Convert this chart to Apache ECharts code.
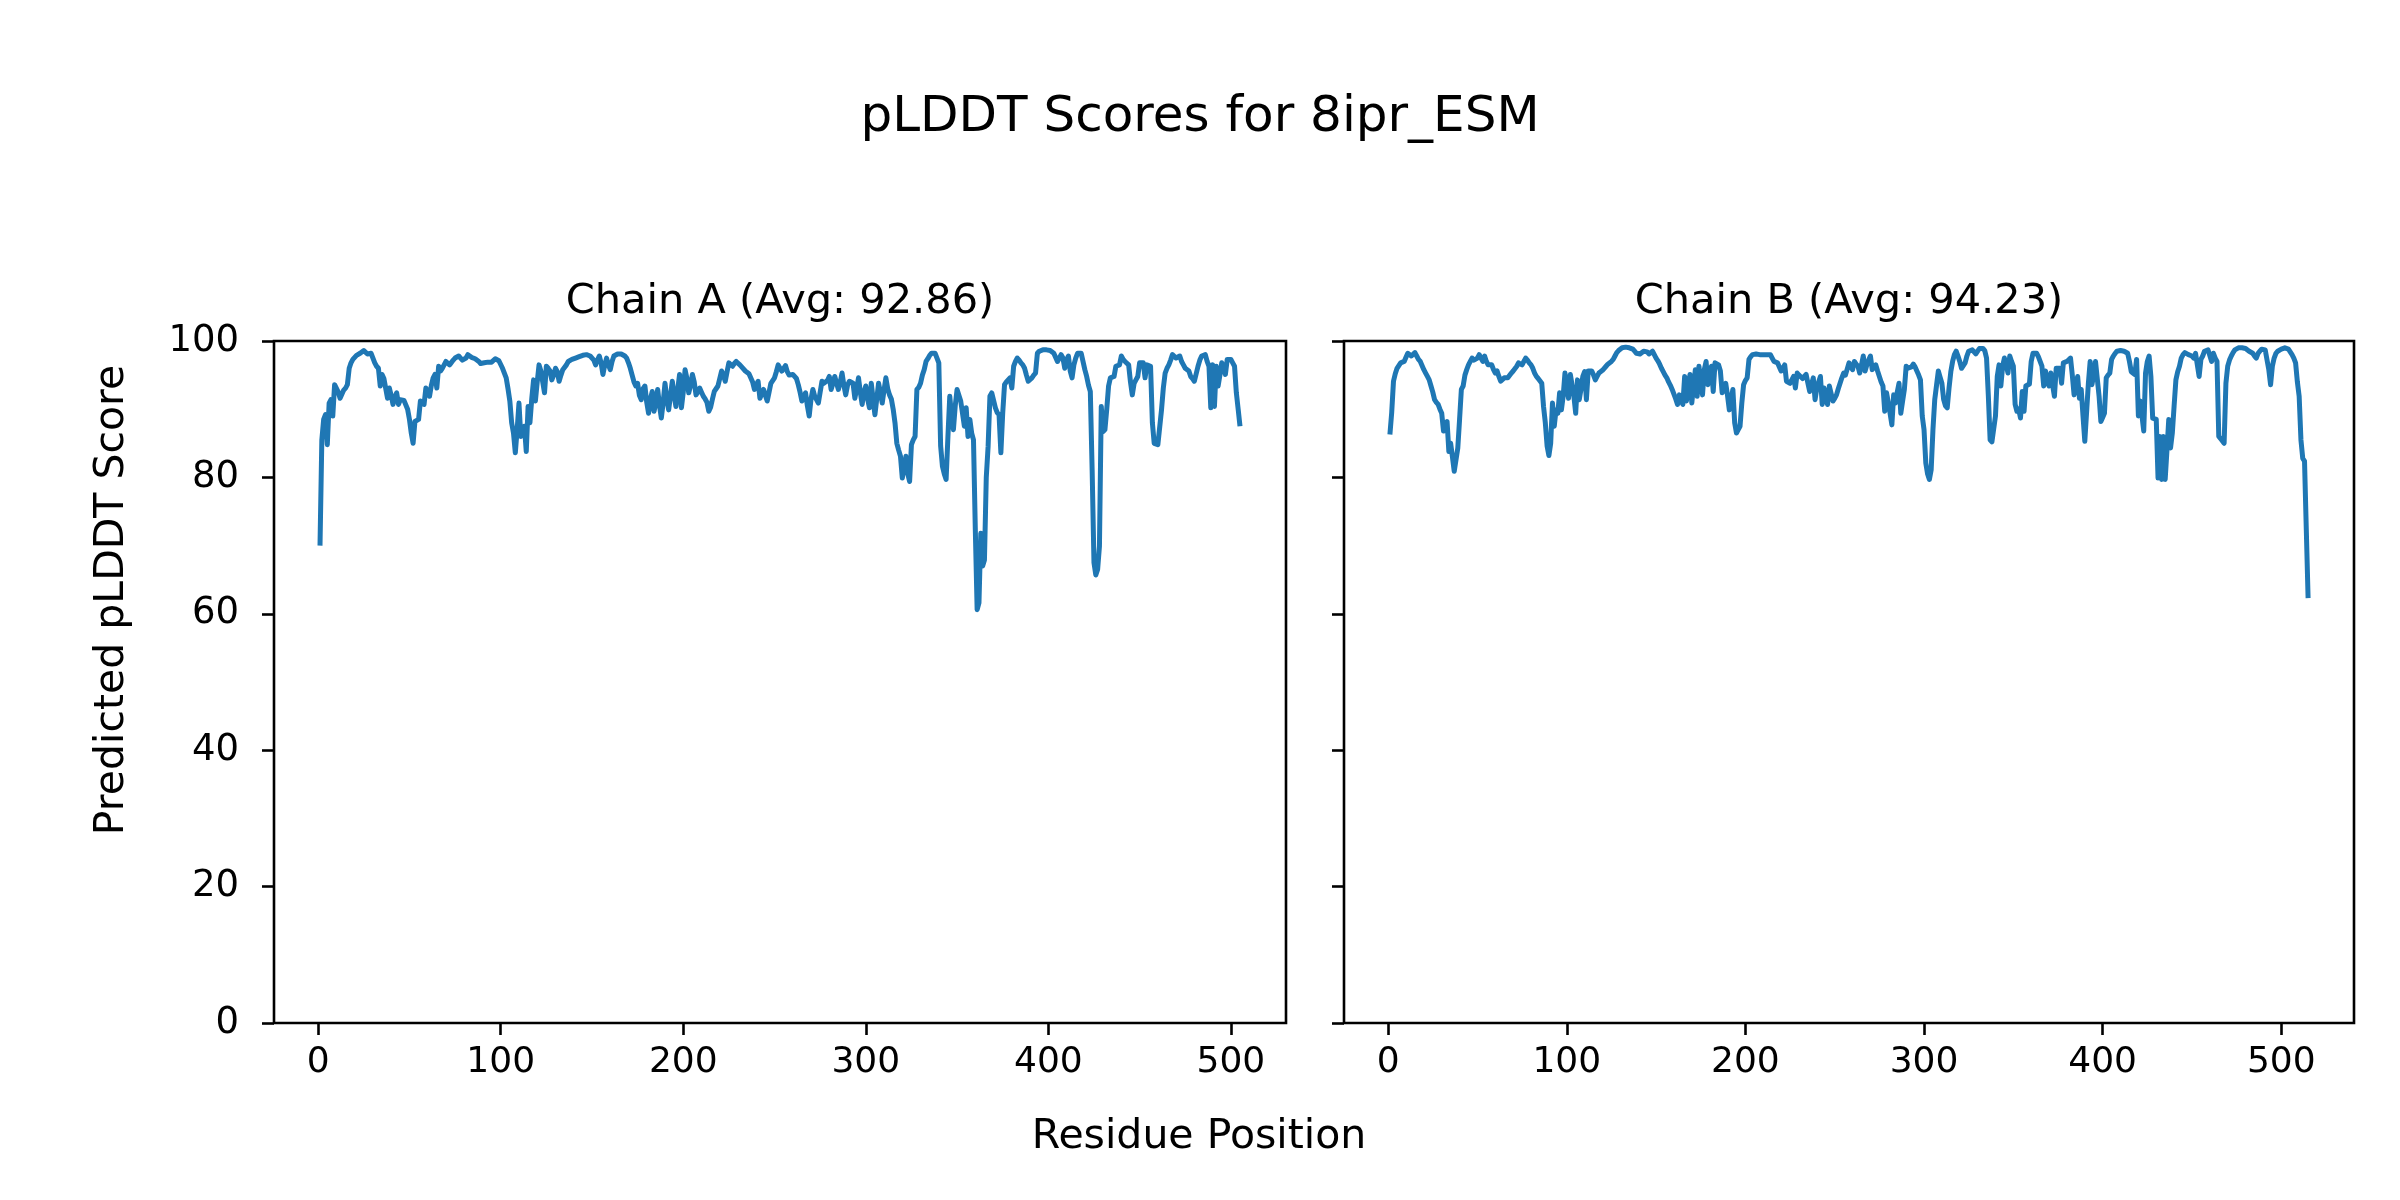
<!DOCTYPE html>
<html>
<head>
<meta charset="utf-8">
<script src="https://cdn.jsdelivr.net/npm/echarts@6/dist/echarts.min.js"></script>
<style>
html,body{margin:0;padding:0;background:#fff;}
#chart{width:2400px;height:1200px;}
</style>
</head>
<body>
<div id="chart"></div>
<script>
// ---- Data ----
const figureTitle = 'pLDDT Scores for 8ipr_ESM';
const panelTitles = ['Chain A (Avg: 92.86)', 'Chain B (Avg: 94.23)'];
const xAxisLabel = 'Residue Position';
const yAxisLabel = 'Predicted pLDDT Score';
const residueTicks = [0, 100, 200, 300, 400, 500];
const scoreTicks = [0, 20, 40, 60, 80, 100];

// Chain A, residues 1..505
const chainAScores = [
70,85.5,88.5,89.2,84.8,90.9,91.4,89,93.6,93.6,
92.5,91.6,91.8,92.8,93.1,93.6,96,96.8,97.3,97.6,
97.9,98,98.2,98.3,98.6,98.4,98.1,98.0,98.2,97.5,
96.8,96.3,96.0,93.4,95.1,94.5,94.3,91.6,93.1,92.0,
90.7,91.8,92.4,90.7,91.4,91.4,91.3,91.2,90.0,88.5,
86.5,85.0,88.2,88.4,88.5,91.2,91.0,90.7,93.1,92.5,
91.9,93.5,94.6,95.1,93.1,96.3,95.6,96.0,96.5,97.0,
96.8,96.5,96.3,97.2,97.5,97.6,97.8,97.5,97.2,97.0,
97.5,98.0,97.8,97.6,97.5,97.4,97.3,97.0,96.7,96.5,
96.8,97.0,96.9,96.9,96.9,97.1,97.4,97.5,97.1,97.0,
96.0,95.3,94.6,93.0,91.2,88.0,86.5,83.6,87.0,90.9,
86.0,87.0,87.5,83.8,90.4,88.0,91.5,94.3,91.2,94.0,
96.5,95.6,94.0,92.4,96.3,96.0,95.6,94.3,95.0,96.0,
95.5,94.1,95.0,95.8,96.0,96.5,97.0,97.1,97.3,97.5,
97.5,97.6,97.7,97.8,97.9,97.9,98.0,97.9,97.8,97.8,
97.2,96.5,97.2,97.8,96.8,95.1,96.5,97.5,96.5,95.8,
97.0,97.8,98.0,98.1,98.2,98.1,98.0,97.8,97.5,96.8,
96.0,95.0,94.0,93.4,93.8,92.0,91.4,93.0,93.4,91.0,
89.4,91.5,92.6,89.7,91.0,92.9,90.5,88.7,91.0,93.8,
91.5,89.9,92.0,94.1,92.0,90.4,93.0,95.1,90.2,92.5,
95.8,94.5,92.4,93.5,95.1,94.0,92.1,92.5,93.1,92.5,
91.9,91.5,91.0,89.7,90.3,91.5,92.6,93.0,93.4,93.6,
95.6,95.0,94.1,95.5,96.8,96.6,96.3,96.7,97.0,96.8,
96.5,96.2,96.0,95.6,95.4,95.2,95.1,94.0,92.9,93.5,
94.1,91.6,92.3,92.9,92.0,91.2,92.5,93.8,94.2,94.6,
95.5,96.5,96.0,95.6,96.0,96.4,95.5,95.0,94.8,95.1,
95.3,94.5,93.6,92.5,91.2,91.8,92.4,90.5,89.0,91.5,
92.9,91.9,91.4,90.9,92.5,94.1,93.8,93.6,94.2,94.8,
92.9,93.8,94.8,93.8,92.9,94.0,95.3,93.5,92.1,93.5,
94.1,94.0,93.8,91.6,93.0,94.6,92.5,90.7,92.5,93.4,
91.5,90.2,93.8,91.5,89.2,91.5,93.8,92.5,90.9,92.8,
94.6,93.0,92.1,91.5,90.0,88.0,85.0,84.0,83.1,79.9,
81.5,83.1,80.5,79.4,84.8,85.5,86.0,92.9,93.2,93.8,
95.0,95.8,97.0,97.4,97.9,98.2,98.3,98.2,97.5,96.8,
84.6,81.6,80.5,79.7,86.0,91.9,89.0,87.0,90.5,92.9,
93.1,91.2,91.4,87.5,90.2,86.0,88.5,86.5,85.5,72.3,
60.6,61.6,71.8,67.0,67.9,80.0,84.5,91.9,92.4,92.6,
90.2,89.5,89.2,83.6,89.4,93.6,94.0,94.3,94.6,93.1,
96.3,97.0,97.5,97.2,96.8,96.5,96.0,95.0,94.1,94.3,
94.6,95.0,95.3,98.2,98.5,98.7,98.7,98.7,98.7,98.6,
98.6,98.4,98.2,98.0,97.0,96.8,98.0,97.5,96.0,97.2,
97.8,95.6,94.6,96.5,97.5,98.2,98.2,98.2,98.0,95.8,
94.8,93.5,92.6,81.1,67.5,65.7,66.5,69.9,90.4,86.7,
87.0,90.0,93.4,94.6,94.7,94.8,96.3,96.4,96.5,97.8,
97.3,97.0,96.8,96.5,94.0,92.1,93.8,94.3,94.8,96.8,
96.8,96.8,94.6,96.5,96.4,96.3,88.0,85.0,84.8,84.8,
85.0,89.9,93.1,95.3,96.0,96.5,97.2,98.0,97.8,97.5,
97.6,97.8,97.0,96.5,96.0,95.8,95.6,94.8,94.5,94.1,
95.2,96.3,97.2,97.8,98.0,98.0,97.0,96.3,90.2,96.5,
90.4,96.3,93.4,95.0,96.8,96.0,95.1,97.3,97.3,97.3,
96.8,96.3,92.4,90.0,87.5
];

// Chain B, residues 1..515
const chainBScores = [
86.3,89.5,94.1,95.2,96.0,96.4,96.8,96.9,97.0,97.6,
98.2,98.0,97.8,98.0,98.3,97.8,97.3,97.0,96.8,95.8,
95.3,94.8,94.3,93.4,92.5,91.4,91.0,90.7,90.0,89.4,
86.8,87.5,88.2,83.8,85.0,83.0,80.9,81.1,84.3,88.5,
92.9,93.4,95.0,95.8,96.5,97.0,97.5,97.2,97.0,97.5,
98.0,97.5,97.0,97.8,97.0,96.5,96.5,96.5,95.8,95.3,
95.6,94.8,94.1,94.3,94.6,94.6,94.6,94.8,95.3,95.6,
95.8,96.3,96.8,96.6,96.5,97.0,97.5,97.2,96.8,96.5,
96.0,95.3,94.8,94.5,94.3,93.8,90.4,88.0,84.6,83.2,
85.0,90.9,87.5,89.9,89.4,92.4,89.9,91.9,95.3,93.5,
91.6,95.1,95.1,91.9,89.4,94.3,91.4,93.0,94.8,95.5,
91.4,95.6,95.6,95.6,95.0,94.3,94.8,95.3,95.5,95.7,
95.8,96.3,96.6,96.8,97.0,97.3,97.8,98.3,98.6,98.8,
99.0,99.1,99.1,99.1,99.0,98.9,98.8,98.5,98.2,98.0,
98.1,98.3,98.5,98.7,98.4,98.1,98.3,98.5,98.0,97.5,
97.1,96.6,96.0,95.5,95.0,94.6,94.0,93.5,92.9,93.0,
91.5,90.7,92.1,91.2,90.7,94.8,91.2,93.5,95.1,90.9,
93.5,95.8,91.9,96.3,94.0,92.1,95.8,97.0,93.6,95.5,
96.3,92.6,96.8,96.6,96.5,95.6,92.4,93.0,93.8,92.0,
89.9,91.5,92.9,88.0,86.5,87.0,87.5,90.9,93.6,94.2,
94.6,97.3,97.7,98.0,98.0,98.1,98.1,98.0,98.0,98.0,
98.0,98.0,98.0,98.0,97.5,97.0,96.9,96.8,96.2,95.6,
96.0,96.5,94.1,94.0,93.8,94.3,94.8,93.1,95.3,95.0,
94.8,94.5,94.3,95.1,93.8,92.6,93.6,94.6,91.4,93.1,
94.0,94.8,90.7,93.1,92.0,90.7,93.4,92.3,91.2,91.6,
92.1,93.0,93.8,94.6,95.3,95.0,94.8,96.8,96.2,95.8,
97.0,96.6,96.3,95.3,96.5,97.8,95.6,96.5,97.2,97.8,
95.8,96.2,96.5,95.6,94.8,94.0,93.4,89.7,92.4,91.0,
89.4,87.7,92.1,90.9,92.5,93.8,89.4,91.2,92.9,96.3,
96.0,95.8,96.2,96.6,96.2,95.6,95.0,94.3,89.0,87.0,
82.1,80.5,79.7,81.1,87.0,91.4,93.5,95.6,94.7,93.8,
91.4,90.5,90.2,93.1,95.5,97.0,98.0,98.5,97.8,97.0,
96.0,96.4,96.8,97.8,98.5,98.6,98.7,98.4,98.1,98.5,
98.9,99.1,98.9,98.6,97.5,92.0,85.5,85.2,85.0,89.0,
94.8,96.5,93.4,96.3,97.5,96.5,95.3,97.8,97.0,96.3,
90.7,89.7,90.0,88.7,92.6,89.7,93.4,93.6,93.7,97.0,
98.2,98.2,98.2,97.7,97.5,96.3,93.4,95.6,94.0,93.4,
95.3,93.5,91.9,96.0,96.0,96.0,93.8,96.8,97.0,97.0,
97.2,97.5,95.0,92.1,93.5,94.8,91.6,92.9,89.0,85.3,
85.3,93.8,97.0,93.6,95.0,97.0,97.0,91.9,88.2,88.8,
89.4,94.6,95.0,95.3,97.3,97.8,98.2,98.5,98.7,98.6,
98.5,98.5,98.4,98.2,97.0,95.5,95.3,95.1,97.3,89.0,
91.2,89.0,86.8,95.3,97.0,97.8,94.8,88.7,88.6,88.5,
79.9,86.0,79.7,86.0,79.7,84.0,88.5,84.3,86.5,90.5,
94.3,95.5,96.3,97.5,98.0,98.3,98.2,98.0,98.2,97.8,
97.5,98.2,96.5,94.8,97.3,97.8,98.5,98.6,98.7,98.7,
97.0,98.2,97.5,97.0,86.0,85.7,85.5,85.0,93.8,96.3,
97.2,97.8,98.3,98.7,98.8,99.0,99.0,99.0,99.0,98.9,
98.7,98.5,98.3,98.2,97.8,97.5,98.2,98.5,98.8,99.0,
98.7,98.5,95.8,93.6,96.3,97.5,98.2,98.5,98.7,98.8,
99.0,99.0,98.9,98.8,98.6,98.0,97.5,96.8,94.0,91.9,
85.5,82.8,82.4,72.3,62.3
];

// ---- Chart ----
const FONT = 'DejaVu Sans';
const BLUE = '#1f77b4';
const toPairs = arr => arr.map((v, i) => [i + 1, v]);
// matplotlib-style 5% margins around the residue range
const xLimits = arr => {
  const lo = 1, hi = arr.length, pad = (hi - lo) * 0.05;
  return [lo - pad, hi + pad];
};
const limA = xLimits(chainAScores);
const limB = xLimits(chainBScores);

const grids = [
  {left: 274, top: 341, width: 1012, height: 682},
  {left: 1344, top: 341, width: 1010, height: 682}
].map(g => Object.assign(g, {show: true, borderColor: '#000', borderWidth: 2.6, backgroundColor: 'transparent', containLabel: false}));

function makeX(idx, lim) {
  return {
    type: 'value', gridIndex: idx, min: lim[0], max: lim[1], position: 'bottom',
    axisLine: {show: false, onZero: false},
    axisTick: {show: true, customValues: residueTicks, length: 12, lineStyle: {color: '#000', width: 2.6}},
    axisLabel: {show: true, customValues: residueTicks, fontSize: 36, fontFamily: FONT, color: '#000', margin: 22},
    splitLine: {show: false}
  };
}
function makeY(idx, showLabels) {
  return {
    type: 'value', gridIndex: idx, min: 0, max: 100, interval: 20, position: 'left',
    axisLine: {show: false, onZero: false},
    axisTick: {show: true, length: 12, lineStyle: {color: '#000', width: 2.6}},
    axisLabel: {show: showLabels, fontSize: 37, fontFamily: FONT, color: '#000', margin: 35},
    splitLine: {show: false}
  };
}

const chart = echarts.init(document.getElementById('chart'), null, {renderer: 'canvas'});
chart.setOption({
  animation: false,
  backgroundColor: '#fff',
  grid: grids,
  xAxis: [makeX(0, limA), makeX(1, limB)],
  yAxis: [makeY(0, true), makeY(1, false)],
  series: [
    {type: 'line', xAxisIndex: 0, yAxisIndex: 0, data: toPairs(chainAScores), showSymbol: false, symbol: 'none',
     lineStyle: {color: BLUE, width: 5, join: 'round'}, z: 1},
    {type: 'line', xAxisIndex: 1, yAxisIndex: 1, data: toPairs(chainBScores), showSymbol: false, symbol: 'none',
     lineStyle: {color: BLUE, width: 5, join: 'round'}, z: 1}
  ],
  graphic: [
    {type: 'text', x: 1200, y: 118, style: {text: figureTitle, fontSize: 50, fontFamily: FONT, fill: '#000', align: 'center', verticalAlign: 'middle'}},
    {type: 'text', x: 780, y: 302, style: {text: panelTitles[0], fontSize: 41.5, fontFamily: FONT, fill: '#000', align: 'center', verticalAlign: 'middle'}},
    {type: 'text', x: 1849, y: 302, style: {text: panelTitles[1], fontSize: 41.5, fontFamily: FONT, fill: '#000', align: 'center', verticalAlign: 'middle'}},
    {type: 'text', x: 1199, y: 1137, style: {text: xAxisLabel, fontSize: 41, fontFamily: FONT, fill: '#000', align: 'center', verticalAlign: 'middle'}},
    {type: 'text', x: 112, y: 600, rotation: Math.PI / 2, style: {text: yAxisLabel, fontSize: 41, fontFamily: FONT, fill: '#000', align: 'center', verticalAlign: 'middle'}}
  ]
});
</script>
</body>
</html>
